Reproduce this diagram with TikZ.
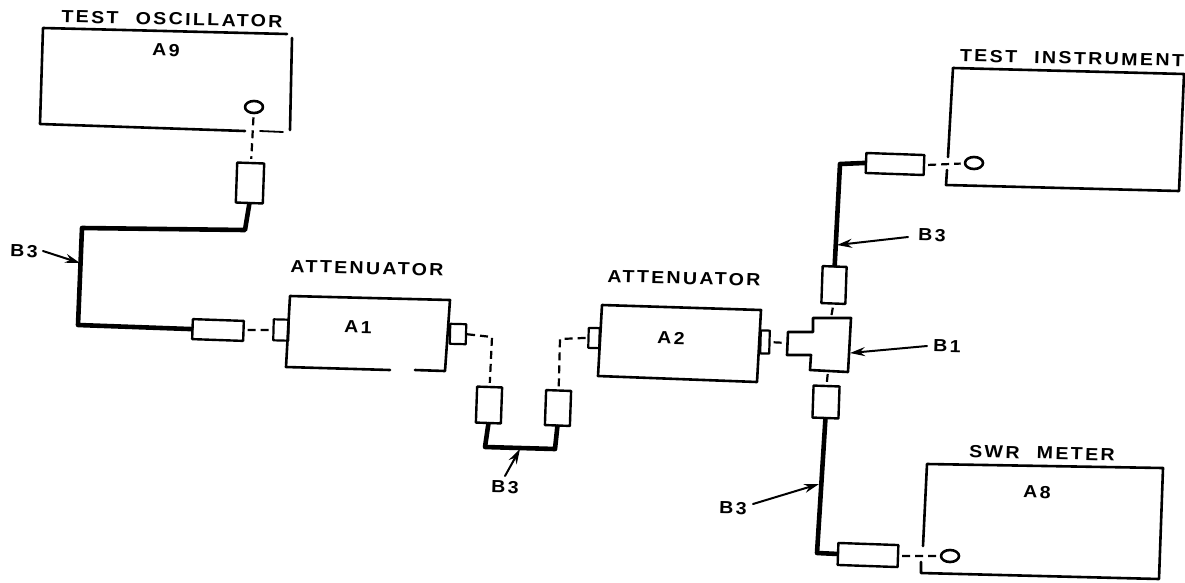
\documentclass[tikz,border=0pt]{standalone}
\usepackage{fontspec}
\usepackage{tikz}
\usetikzlibrary{arrows.meta,shapes.geometric}
\newfontfamily\platefont[LetterSpace=12,WordSpace=2.2]{Liberation Sans Bold}
\begin{document}
\begin{tikzpicture}[x=1pt,y=-1pt,line join=round,line cap=round,
  >={Stealth[length=15pt,width=9pt,inset=5pt]}]
  \tikzstyle{outline}=[line width=2.6pt]
  \tikzstyle{tube}=[draw,rectangle,line width=2.4pt,inner sep=0pt,rotate=-2]
  \tikzstyle{stub}=[draw,rectangle,line width=2.2pt,inner sep=0pt,rotate=-1.5]
  \tikzstyle{jack}=[draw,ellipse,line width=2.6pt,minimum width=18pt,minimum height=12pt,inner sep=0pt]
  \tikzstyle{cable}=[line width=4.6pt]
  \tikzstyle{link}=[line width=2.2pt,dash pattern=on 8pt off 5pt,line cap=butt,shorten >=3pt,shorten <=3pt]
  \tikzstyle{pointer}=[line width=2pt,->]
  \tikzstyle{plate}=[inner sep=0pt,xscale=1.12,font=\platefont\fontsize{17.5}{19}\selectfont,rotate=-1.5]
  \useasboundingbox (0,0) rectangle (1185,582);
  \fill[white] (0,0) rectangle (1185,582);

  \draw[outline] (287,34) -- (43,28) -- (40,124) -- (245,131);
  \draw[outline] (292,38) -- (290,130);
  \draw[line width=1.8pt] (260,131) -- (283,132);
  \node[plate] (oscname) at (172,19) {TEST OSCILLATOR};
  \node[plate] (oscref) at (166,50) {A9};
  \node[jack] (oscjack) at (254,107) {};

  \draw[outline] (415,370) -- (445,371) -- (450,300) -- (290,296) -- (286,367) -- (390,370);
  \node[plate] (atonename) at (367,268) {ATTENUATOR};
  \node[plate] (atoneref) at (358,327) {A1};
  \node[stub,minimum width=15pt,minimum height=21pt] (atoneL) at (281,330) {};
  \node[stub,minimum width=16pt,minimum height=20pt] (atoneR) at (458,334) {};

  \draw[outline] (602,305) -- (761,310) -- (757,382) -- (598,376) -- cycle;
  \node[plate] (attwoname) at (684,278) {ATTENUATOR};
  \node[plate] (attworef) at (671,338) {A2};
  \node[stub,minimum width=11pt,minimum height=20pt] (attwoL) at (594,338) {};
  \node[stub,minimum width=9pt,minimum height=23pt] (attwoR) at (765,342) {};

  \draw[outline] (788,332) -- (813,332) -- (813,318) -- (851,318) -- (848,372)
    -- (810,370) -- (811,355) -- (787,355) -- cycle;
  \coordinate (teeL) at (788,343);
  \coordinate (teeT) at (831,318);
  \coordinate (teeB) at (828,371);
  \coordinate (teeR) at (850,353);
  \node[plate] (teeref) at (947,346) {B1};

  \draw[outline] (953,68) -- (1184,74) -- (1179,191) -- (946,185) -- (947,170);
  \draw[outline] (948,157) -- (953,68);
  \node[plate] (instname) at (1072,58) {TEST INSTRUMENT};
  \node[jack] (instjack) at (974,163) {};

  \draw[outline] (923,546) -- (927,464) -- (1163,468) -- (1159,579) -- (921,573) -- (921,562);
  \node[plate] (swrname) at (1042,453) {SWR METER};
  \node[plate] (swrref) at (1037,492) {A8};
  \node[jack] (swrjack) at (950,556) {};

  \node[tube,minimum width=27pt,minimum height=40pt] (oscplug) at (250,183) {};
  \node[tube,minimum width=51pt,minimum height=20pt] (oneplug) at (218,330) {};
  \node[tube,minimum width=25pt,minimum height=36pt] (midL) at (489,405) {};
  \node[tube,minimum width=25pt,minimum height=35pt] (midR) at (558,408) {};
  \node[tube,minimum width=24pt,minimum height=37pt] (teeplugT) at (834,285) {};
  \node[tube,minimum width=26pt,minimum height=32pt] (teeplugB) at (826,402) {};
  \node[tube,minimum width=58pt,minimum height=20pt] (instplug) at (895,164) {};
  \node[tube,minimum width=60pt,minimum height=22pt] (swrplug) at (868,555) {};

  \coordinate (a) at (245,230);
  \coordinate (b) at (82,228);
  \coordinate (c) at (78,325);
  \coordinate (d) at (485,447);
  \coordinate (e) at (555,449);
  \coordinate (f) at (840,164);
  \coordinate (g) at (817,553);
  \draw[cable] (oscplug.south) -- (a) -- (b) -- (c) -- (oneplug.west);
  \draw[cable] (midL.south) -- (d) -- (e) -- (midR.south);
  \draw[cable] (teeplugT.north) -- (f) -- (instplug.west);
  \draw[cable] (teeplugB.south) -- (g) -- (swrplug.west);

  \coordinate (h) at (492,337);
  \coordinate (i) at (560,339);
  \draw[link] (oscjack) -- (oscplug);
  \draw[link] (oneplug) -- (atoneL);
  \draw[link,shorten <=0pt] (atoneR.east) -- (h) -- (midL.north);
  \draw[link,shorten >=0pt] (midR.north) -- (i) -- (attwoL.west);
  \draw[link] (attwoR.east) -- (teeL);
  \draw[link] (teeplugT.south) -- (teeT);
  \draw[link] (teeB) -- (teeplugB.north);
  \draw[link] (instplug.east) -- (instjack);
  \draw[link] (swrplug.east) -- (swrjack);

  \node[plate] (lblA) at (24,251) {B3};
  \node[plate] (lblB) at (505,487) {B3};
  \node[plate] (lblC) at (932,235) {B3};
  \node[plate] (lblD) at (733,508) {B3};
  \coordinate (tipA) at (80,263);
  \coordinate (tipB) at (520,449);
  \coordinate (tipC) at (837,245);
  \coordinate (tipD) at (819,484);
  \draw[pointer] (lblA) ++(19,0) -- (tipA);
  \draw[pointer] (lblB) ++(0,-11) -- (tipB);
  \draw[pointer] (lblC) ++(-24,2) -- (tipC);
  \draw[pointer] (lblD) ++(20,-4) -- (tipD);
  \draw[pointer] (teeref) ++(-20,0) -- (teeR);
\end{tikzpicture}
\end{document}
